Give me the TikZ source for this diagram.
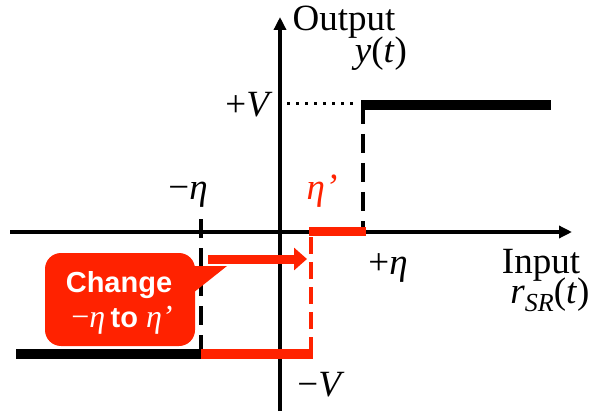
\documentclass[tikz,border=0pt]{standalone}
\usepackage{fontspec}
\setmainfont{Liberation Serif}
\newfontfamily\sansfnt{Liberation Sans}
\usetikzlibrary{arrows.meta}
\definecolor{hred}{RGB}{255,34,0}
\begin{document}
\begin{tikzpicture}[x=1pt,y=-1pt,
  lbl/.style={inner sep=0pt, anchor=base, font=\fontsize{37}{40}\selectfont},
  axisline/.style={line width=3.5pt, -{Triangle[length=13pt,width=12pt]}},
  barline/.style={line width=10pt, line cap=butt},
  dashline/.style={line width=4pt, dash pattern=on 19pt off 10pt},
  dotline/.style={line width=3pt, dash pattern=on 3pt off 6pt},
  calloutbox/.style={fill=hred, rounded corners=16pt, minimum width=150pt, minimum height=93pt, inner sep=0pt},
  callouttext/.style={inner sep=0pt, anchor=base, text=white}
]
\useasboundingbox (0,0) rectangle (594,414);

% axes
\coordinate (xl) at (10,232);
\coordinate (xr) at (572,232);
\coordinate (yb) at (280,411);
\coordinate (yt) at (280,17);
\draw[axisline] (xl) -- (xr);
\draw[axisline] (yb) -- (yt);

% upper black branch
\coordinate (ua) at (361,105);
\coordinate (ub) at (551,105);
\coordinate (uc) at (363,105);
\coordinate (ud) at (363,232);
\coordinate (da) at (287,104);
\coordinate (db) at (358,104);
\draw[barline] (ua) -- (ub);
\draw[dashline] (uc) -- (ud);
\draw[dotline] (da) -- (db);

% lower black branch
\coordinate (la) at (16,354);
\coordinate (lb) at (201,354);
\coordinate (lt) at (201,219);
\draw[barline] (la) -- (lb);
\draw[dashline] (lt) -- (lb);

% red branch
\coordinate (ra) at (201,354);
\coordinate (rb) at (313,354);
\coordinate (rc) at (311,354);
\coordinate (rd) at (311,232);
\coordinate (re) at (309,231.5);
\coordinate (rf) at (366,231.5);
\draw[barline, hred] (ra) -- (rb);
\draw[dashline, hred, dash pattern=on 17pt off 8pt] (rc) -- (rd);
\draw[barline, hred, line width=9pt] (re) -- (rf);

% red arrow
\coordinate (aa) at (208,259);
\coordinate (ab) at (307,259);
\draw[hred, line width=9pt, -{Triangle[length=13pt,width=22pt]}] (aa) -- (ab);

% callout
\node[calloutbox] (co) at (120,299.5) {};
\coordinate (pa) at (188,266);
\coordinate (pt) at (227,266);
\coordinate (pb) at (188,297);
\fill[hred] (pa) -- (pt) -- (pb) -- cycle;
\node[callouttext, font=\sansfnt\bfseries\fontsize{29}{32}\selectfont] (c1) at (119,292) {Change};
\node[callouttext, font=\fontsize{32}{34}\selectfont] (c2) at (122,327) {−\textit{η}\,{\sansfnt\bfseries\fontsize{29}{32}\selectfont to} \textit{η’}};

% labels
\node[lbl] (out) at (344,31) {Output};
\node[lbl] (yt2) at (381,63) {\textit{y}(\textit{t})};
\node[lbl] (pv) at (249,117) {+\textit{V}};
\node[lbl] (mv) at (321,396) {−\textit{V}};
\node[lbl] (me) at (188,200) {−\textit{η}};
\node[lbl, text=hred] (ep) at (322,200) {\textit{η’}};
\node[lbl] (pe) at (388,274) {+\textit{η}};
\node[lbl] (inp) at (541,273) {Input};
\node[lbl] (rsr) at (550,303) {\textit{r}\raisebox{-0.22em}{\fontsize{26}{28}\selectfont\textit{SR}}(\textit{t})};
\end{tikzpicture}
\end{document}
